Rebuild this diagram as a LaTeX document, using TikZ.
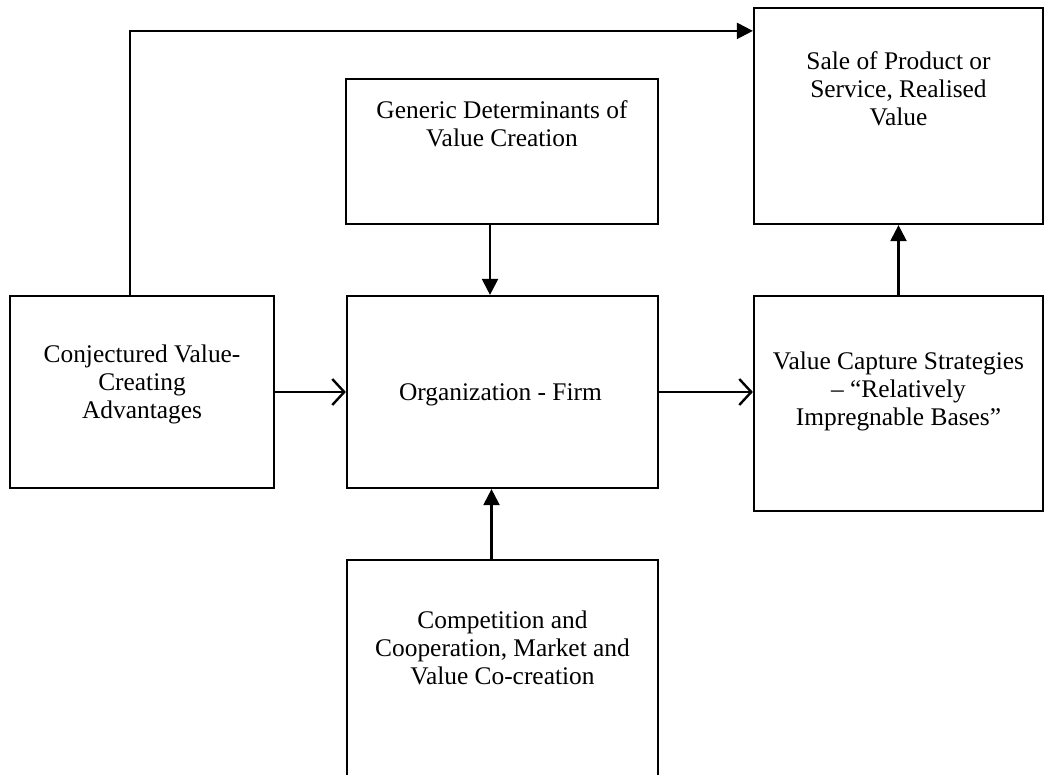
\documentclass[tikz,border=0pt]{standalone}
\usepackage{fontspec}
\setmainfont{Liberation Serif}
\usetikzlibrary{positioning, arrows.meta}

\tikzset{
    box/.style={draw, line width=1.1pt, rectangle, inner sep=0pt},
    txt/.style={align=center, inner sep=0pt, font=\fontsize{12.7}{14}\selectfont},
    solidtip/.style={line width=1.1pt, -{Triangle[length=8pt,width=8pt]}},
    opentip/.style={line width=1.1pt, -{Straight Barb[length=6pt,width=13pt,line width=1.2pt]}}
}

\begin{document}
\begin{tikzpicture}[x=0.5pt, y=-0.5pt]
    \useasboundingbox (0,0) rectangle (1056,775);

    \node[box, minimum width=132pt, minimum height=96pt] (conj) at (142,392) {};
    \node[box, minimum width=155.5pt, minimum height=96pt] (org) at (502.5,392) {};
    \node[box, minimum width=156pt, minimum height=72.5pt] (gen) at (502,151.5) {};
    \node[box, minimum width=144.5pt, minimum height=108pt] (sale) at (898.5,116) {};
    \node[box, minimum width=144.5pt, minimum height=107.5pt] (capt) at (898.5,403.5) {};
    \node[box, minimum width=155.5pt, minimum height=120pt] (comp) at (502.5,680) {};

    \node[txt, below=25pt of conj.north] (conjtxt) {Conjectured Value-\\Creating\\Advantages};
    \node[txt, below=44pt of org.north, xshift=-1pt] (orgtxt) {Organization - Firm};
    \node[txt, below=11pt of gen.north] (gentxt) {Generic Determinants of\\Value Creation};
    \node[txt, below=22pt of sale.north] (saletxt) {Sale of Product or\\Service, Realised\\Value};
    \node[txt, below=28.5pt of capt.north] (capttxt) {Value Capture Strategies\\-- ``Relatively\\Impregnable Bases''};
    \node[txt, below=26pt of comp.north] (comptxt) {Competition and\\Cooperation, Market and\\Value Co-creation};

    \draw[solidtip] ([xshift=-6pt]conj.north) |- ([yshift=-12pt]sale.north west);
    \draw[solidtip] ([xshift=-6pt]gen.south) -- ([xshift=-6pt]gen.south |- org.north);
    \draw[solidtip] ([xshift=-5.5pt]comp.north) -- ([xshift=-5.5pt]comp.north |- org.south);
    \draw[solidtip] (capt.north) -- (sale.south);
    \draw[opentip] (conj.east) -- (org.west);
    \draw[opentip] (org.east) -- (org.east -| capt.west);
\end{tikzpicture}
\end{document}
